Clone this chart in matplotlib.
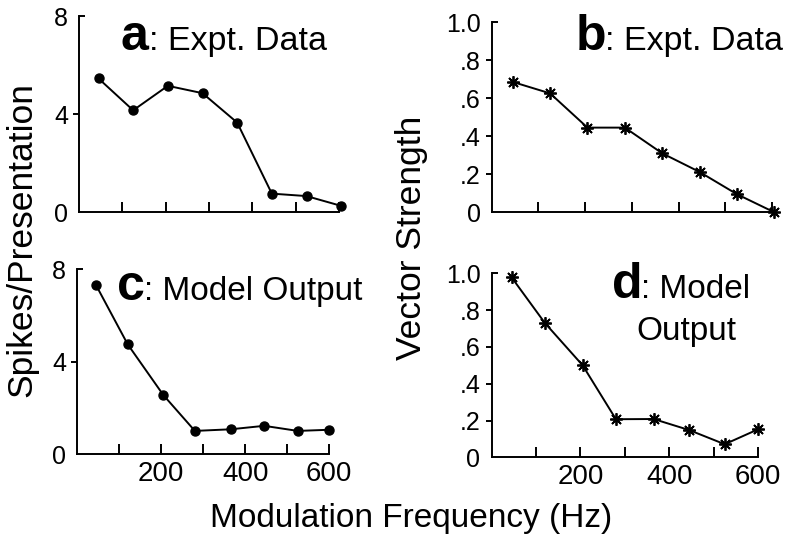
import matplotlib
matplotlib.use("Agg")
import matplotlib.pyplot as plt

plt.rcParams['font.family'] = ['Liberation Sans', 'DejaVu Sans']

# Modulation frequency (Hz) of each point
freq_expt = [45, 125, 205, 285, 365, 445, 525, 605]
freq_model = [45, 120, 205, 280, 365, 445, 525, 600]

# a: experimental spike counts, c: model spike counts
spikes_expt = [5.45, 4.15, 5.15, 4.85, 3.65, 0.75, 0.65, 0.25]
spikes_model = [7.3, 4.75, 2.55, 1.0, 1.07, 1.22, 1.0, 1.05]

# b: experimental vector strength, d: model vector strength
vs_expt = [0.685, 0.625, 0.445, 0.445, 0.31, 0.212, 0.095, 0.0]
vs_model = [0.978, 0.73, 0.5, 0.207, 0.208, 0.148, 0.071, 0.152]

spike_ticks = [0, 4, 8]
spike_labels = ['0', '4', '8']
vs_ticks = [0, 0.2, 0.4, 0.6, 0.8, 1.0]
vs_labels = ['0', '.2', '.4', '.6', '.8', '1.0']
freq_ticks = [100, 200, 300, 400, 500, 600]
freq_labels = ['', '200', '', '400', '', '600']

W, H = 786, 539
fig = plt.figure(figsize=(W / 100, H / 100), dpi=100)


def px_axes(left, top, right, bottom):
    return fig.add_axes([left / W, 1 - bottom / H, (right - left) / W, (bottom - top) / H])


def style(ax, yticks, ylabels, ymax, xlabels):
    ax.set_xlim(0, 600)
    ax.set_ylim(0, ymax)
    for s in ['top', 'right']:
        ax.spines[s].set_visible(False)
    for s in ['left', 'bottom']:
        ax.spines[s].set_linewidth(1.4)
    ax.set_yticks(yticks, ylabels)
    ax.set_xticks(freq_ticks, xlabels if xlabels else [''] * len(freq_ticks))
    ax.tick_params(axis='y', direction='out', length=4, width=1.4, labelsize=18, pad=4)
    ax.tick_params(axis='x', direction='in', length=7, width=1.4, labelsize=20, pad=5)
    # no outward tick at the ends of the y axis, a small inward stub at the top
    ticks = ax.yaxis.get_major_ticks()
    ticks[0].tick1line.set_visible(False)
    ticks[-1].tick1line.set_visible(False)
    ax.plot([0, 14], [ymax, ymax], color='black', lw=1.4, clip_on=False,
            solid_capstyle='butt')


ax_a = px_axes(79, 16, 339, 212)
ax_b = px_axes(491.7, 22, 772, 212.3)
ax_c = px_axes(77.3, 269.3, 329.3, 454)
ax_d = px_axes(491.6, 273.3, 758, 457.3)

style(ax_a, spike_ticks, spike_labels, 8, None)
style(ax_b, vs_ticks, vs_labels, 1.0, None)
style(ax_c, spike_ticks, spike_labels, 8, freq_labels)
style(ax_d, vs_ticks, vs_labels, 1.0, freq_labels)

ax_a.plot(freq_expt, spikes_expt, color='black', lw=1.4, marker='o', ms=6.5, clip_on=False)
ax_c.plot(freq_model, spikes_model, color='black', lw=1.4, marker='o', ms=6.5, clip_on=False)
star = (8, 2, 0)
ax_b.plot(freq_expt, vs_expt, color='black', lw=1.4, marker=star, ms=9, mew=1.3, clip_on=False)
ax_d.plot(freq_model, vs_model, color='black', lw=1.4, marker=star, ms=9, mew=1.3, clip_on=False)


def ftext(x, y, s, **kw):
    fig.text(x / W, 1 - y / H, s, va='baseline', **kw)


# panel titles: big bold letter, then normal text
ftext(121, 50, 'a', fontsize=36, fontweight='bold')
ftext(149, 50, ': Expt. Data', fontsize=24.5)
ftext(576, 50, 'b', fontsize=36, fontweight='bold')
ftext(605, 50, ': Expt. Data', fontsize=24.5)
ftext(117, 300, 'c', fontsize=36, fontweight='bold')
ftext(144, 300, ': Model Output', fontsize=24)
ftext(612, 298, 'd', fontsize=36, fontweight='bold')
ftext(641, 298, ': Model', fontsize=24)
ftext(686, 340, 'Output', fontsize=24, ha='center')

fig.text(22 / W, 1 - 240 / H, 'Spikes/Presentation', rotation=90, fontsize=25.5,
         ha='center', va='center')
fig.text(411 / W, 1 - 238 / H, 'Vector Strength', rotation=90, fontsize=25.5,
         ha='center', va='center')
ftext(411, 527, 'Modulation Frequency (Hz)', fontsize=24, ha='center')

fig.savefig('out.png', dpi=100)
